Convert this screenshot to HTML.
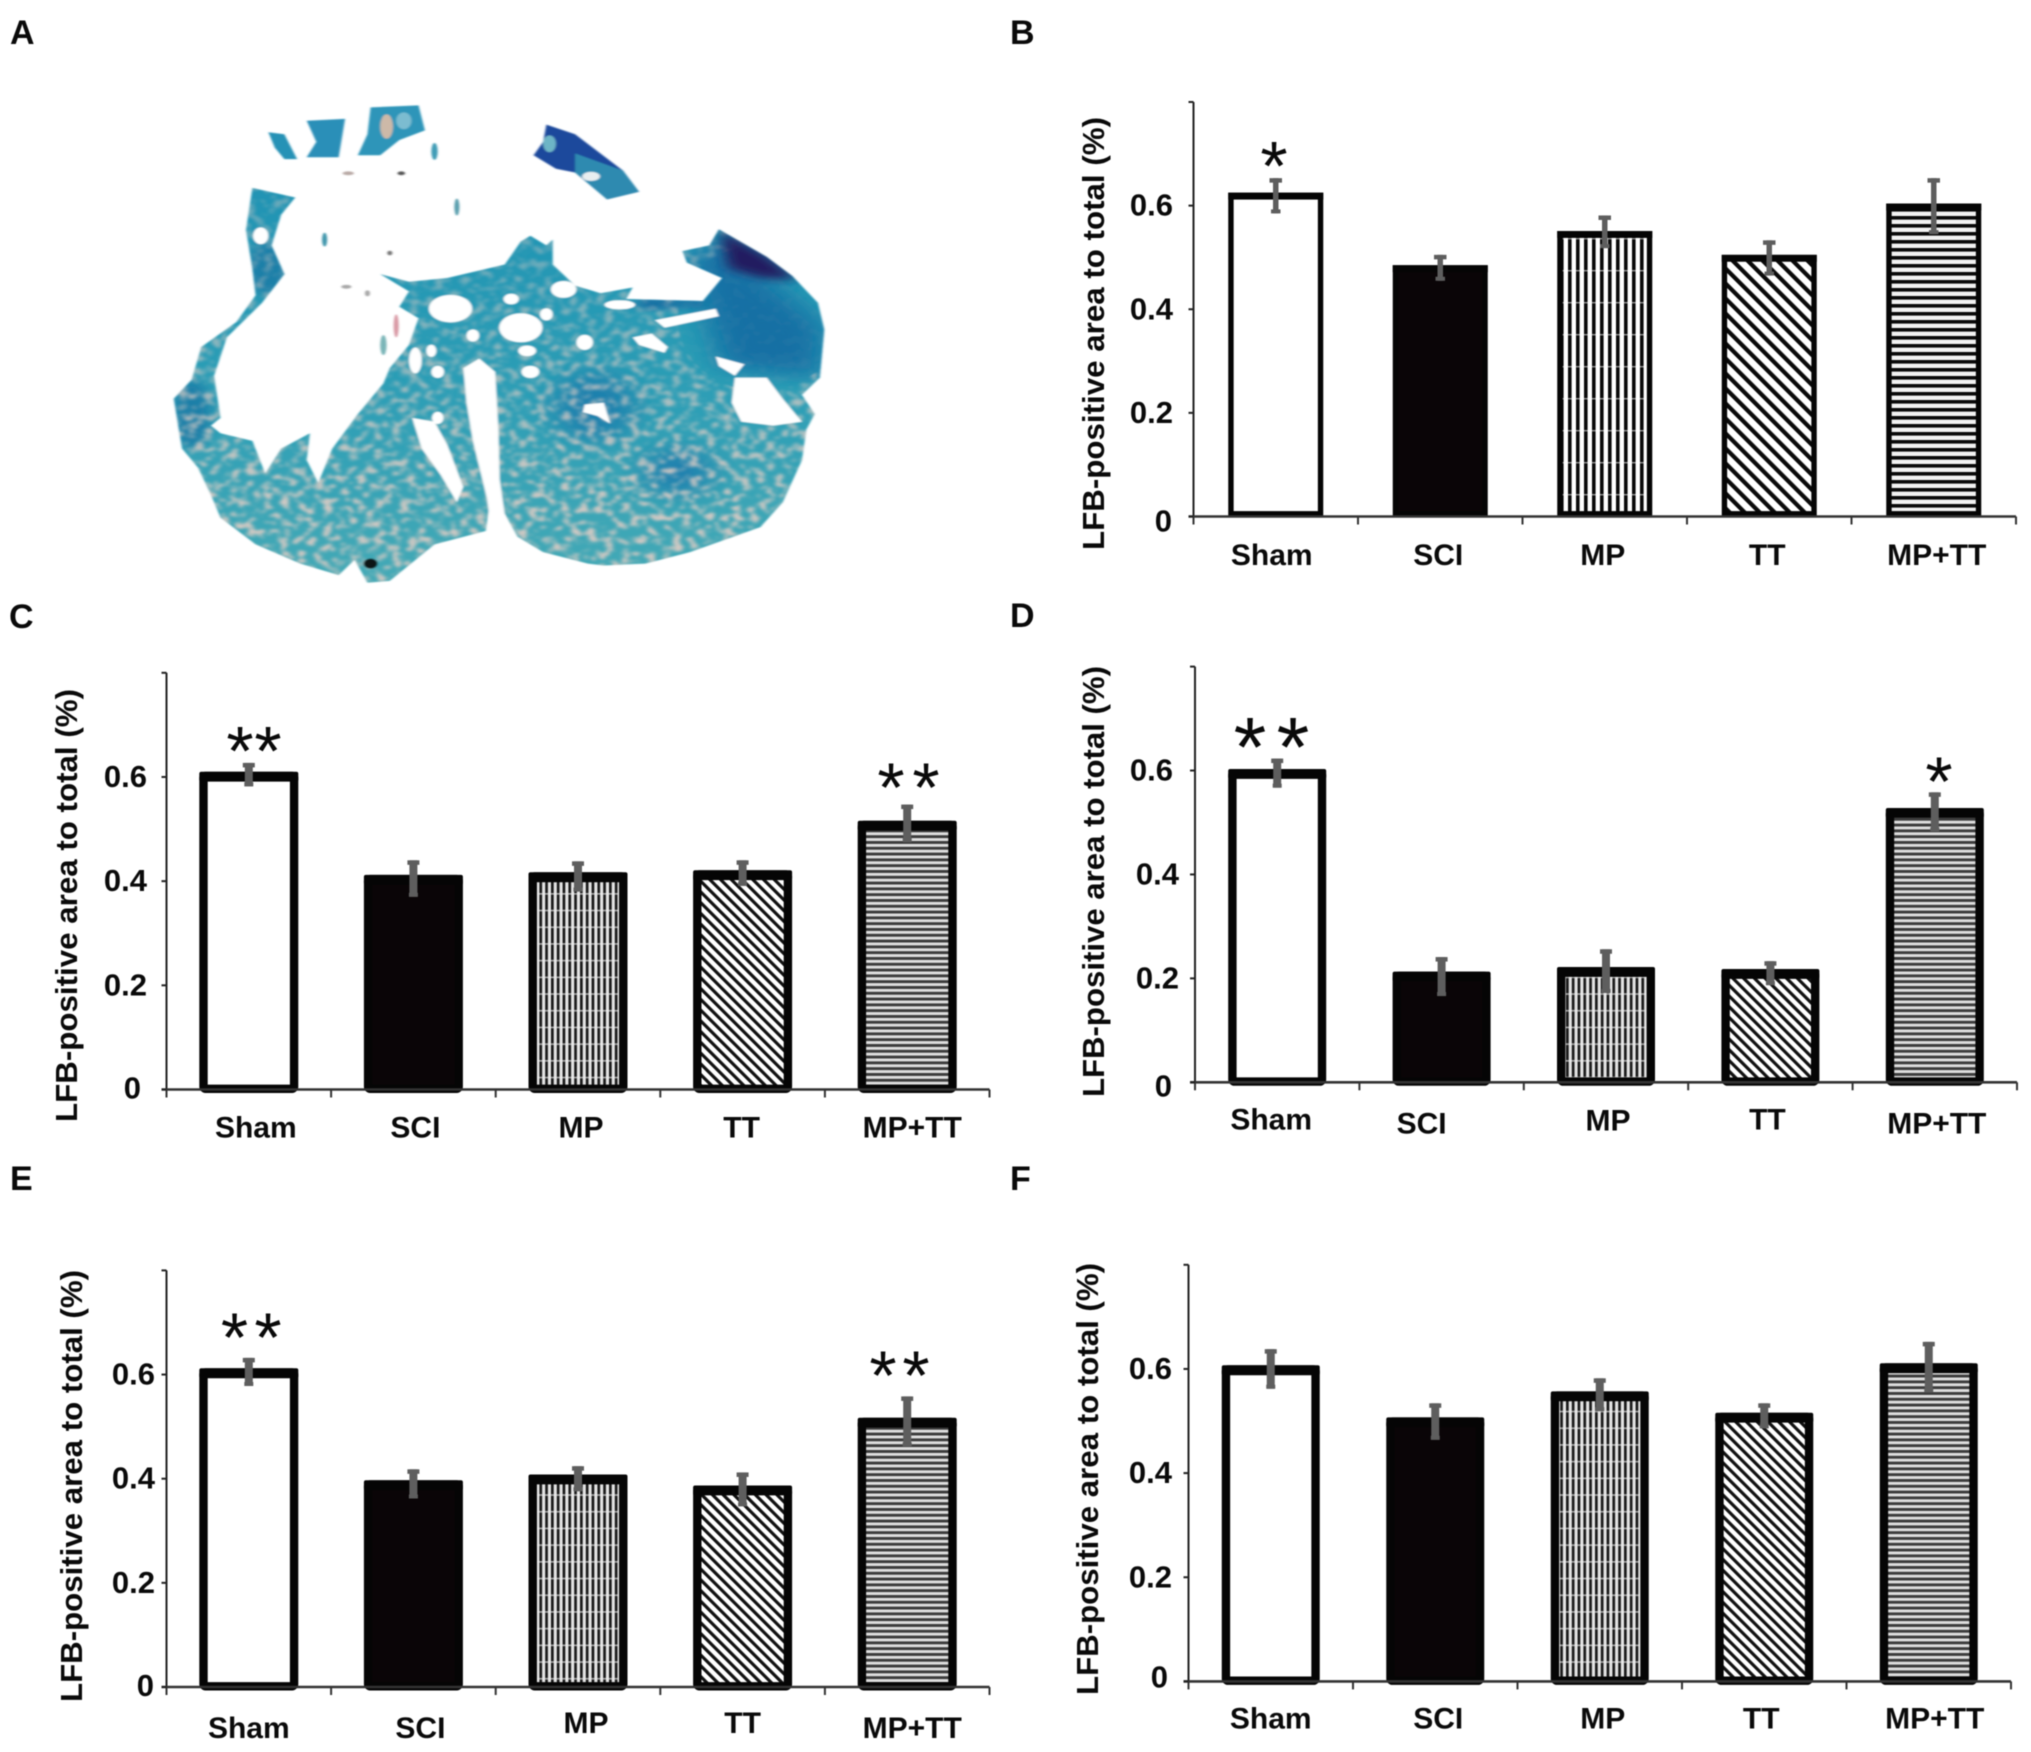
<!DOCTYPE html>
<html lang="en">
<head>
<meta charset="utf-8">
<title>LFB-positive area bar charts</title>
<style>
html,body{margin:0;padding:0;background:#fff;}
svg{display:block;filter:blur(0.6px);}
text{font-family:"Liberation Sans",Arial,sans-serif;fill:#0a0a0a;}
</style>
</head>
<body>
<svg id="figure" xmlns="http://www.w3.org/2000/svg" width="2031" height="1752" viewBox="0 0 2031 1752">
  <defs>
    <pattern id="vert-b" patternUnits="userSpaceOnUse" width="8" height="32">
      <rect width="8" height="32" fill="#fff"/><rect x="0" width="3.6" height="32" fill="#0a0a0a"/>
      <rect y="14" width="8" height="1.4" fill="#fff" opacity="0.55"/>
    </pattern>
    <pattern id="diag-stripe-b" patternUnits="userSpaceOnUse" width="10.6" height="10.6" patternTransform="rotate(-45)">
      <rect width="10.6" height="10.6" fill="#fff"/><rect width="4.2" height="10.6" fill="#0a0a0a"/>
    </pattern>
    <pattern id="horiz-b" patternUnits="userSpaceOnUse" width="8" height="8">
      <rect width="8" height="8" fill="#f2f2f2"/><rect width="8" height="3.6" fill="#0a0a0a"/>
    </pattern>
    <pattern id="vert-t" patternUnits="userSpaceOnUse" width="5.8" height="16.7">
      <rect width="5.8" height="16.7" fill="#e4e4e4"/><rect width="2.7" height="16.7" fill="#1a1a1a"/>
      <rect y="8" width="5.8" height="1.5" fill="#eee" opacity="0.7"/>
    </pattern>
    <pattern id="diag-stripe-t" patternUnits="userSpaceOnUse" width="7.6" height="7.6" patternTransform="rotate(-45)">
      <rect width="7.6" height="7.6" fill="#fff"/><rect width="3.2" height="7.6" fill="#111"/>
    </pattern>
    <pattern id="horiz-t" patternUnits="userSpaceOnUse" width="6" height="5.8">
      <rect width="6" height="5.8" fill="#dedede"/><rect width="6" height="2.9" fill="#3c3c3c"/>
    </pattern>

    <linearGradient id="tissue-base" x1="0" y1="0" x2="0" y2="1">
      <stop offset="0" stop-color="#1f93b4"/>
      <stop offset="0.55" stop-color="#2e9fb6"/>
      <stop offset="1" stop-color="#45aab6"/>
    </linearGradient>
    <linearGradient id="speckle-fade" gradientUnits="userSpaceOnUse" x1="0" y1="700" x2="0" y2="1300">
      <stop offset="0" stop-color="#fff" stop-opacity="0.4"/>
      <stop offset="1" stop-color="#fff" stop-opacity="0.95"/>
    </linearGradient>
    <mask id="speckle-mask" maskUnits="userSpaceOnUse" x="250" y="470" width="1060" height="1070">
      <rect x="250" y="470" width="1060" height="1070" fill="url(#speckle-fade)"/>
      <ellipse cx="1190" cy="830" rx="130" ry="190" fill="#000" opacity="0.9"/>
    </mask>
    <filter id="speckle" x="0" y="0" width="100%" height="100%" color-interpolation-filters="sRGB">
      <feTurbulence type="fractalNoise" baseFrequency="0.075 0.05" numOctaves="2" seed="7"/>
      <feColorMatrix type="matrix" values="0 0 0 0 0.87  0 0 0 0 0.80  0 0 0 0 0.77  4.5 0 0 0 -2.15"/>
      <feGaussianBlur stdDeviation="3"/>
    </filter>
    <filter id="soft-lg" x="-40%" y="-40%" width="180%" height="180%"><feGaussianBlur stdDeviation="26"/></filter>
    <filter id="soft-md" x="-40%" y="-40%" width="180%" height="180%"><feGaussianBlur stdDeviation="11"/></filter>
    <filter id="soft-sm"><feGaussianBlur stdDeviation="1.5"/></filter>
    <clipPath id="tissue-clip">
      <path d="M395,490 L385,600 395,700 400,770 370,840 315,905 300,990 272,1040 285,1170 310,1220 330,1290 345,1350 400,1420 470,1470 530,1500 555,1460 575,1520 610,1515 680,1420 760,1385 765,1330 790,1340 810,1400 850,1440 920,1470 945,1475 1010,1470 1080,1440 1190,1375 1225,1310 1255,1200 1262,1120 1275,1080 1255,1030 1283,985 1290,860 1280,790 1240,720 1200,670 1125,598 1110,640 1068,655 1075,685 1130,725 1100,785 980,780 990,750 940,765 900,745 865,690 865,625 855,640 830,615 815,630 790,690 700,725 640,735 595,715 640,760 625,800 655,830 640,900 610,960 600,1000 560,1080 520,1170 498,1260 480,1200 485,1130 440,1170 415,1235 395,1150 345,1130 330,1110 345,1090 335,980 355,880 410,790 445,715 425,640 440,560 462,515 Z"/>
    </clipPath>
  </defs>

  <rect width="2031" height="1752" fill="#fff"/>

  <g transform="scale(0.639 0.3834)">
    <g filter="url(#soft-sm)">
      <g clip-path="url(#tissue-clip)">
        <rect x="250" y="470" width="1060" height="1070" fill="url(#tissue-base)"/>
        <polygon points="1125,620 1290,850 1285,985 1130,960 1100,800 1080,680" fill="#176fa4" filter="url(#soft-lg)"/>
        <ellipse cx="1060" cy="1230" rx="50" ry="60" fill="#1f7fae" filter="url(#soft-lg)"/>
        <ellipse cx="930" cy="1060" rx="60" ry="90" fill="#1f80ad" filter="url(#soft-lg)"/>
        <ellipse cx="420" cy="700" rx="34" ry="70" fill="#1d7fa8" filter="url(#soft-md)"/>
        <ellipse cx="300" cy="1080" rx="30" ry="90" fill="#1f7fa8" filter="url(#soft-md)"/>
        <polygon points="1000,780 1100,785 1110,795 1000,805" fill="#165f9c" filter="url(#soft-md)"/>
        <g mask="url(#speckle-mask)"><rect x="250" y="470" width="1060" height="1070" filter="url(#speckle)"/></g>
        <polygon points="1125,598 1200,665 1250,730 1190,725 1140,700" fill="#221a60" filter="url(#soft-md)"/>
      </g>
      <g>
        <polygon points="420,345 445,350 465,415 445,415 430,385" fill="#2792b6"/>
        <polygon points="480,315 540,310 530,410 480,410 495,370" fill="#2a8fb8"/>
        <polygon points="580,280 655,275 665,340 625,365 595,405 560,405 575,350" fill="#2d95b9"/>
        <ellipse cx="605" cy="330" rx="10" ry="32" fill="#cdb9a8"/>
        <ellipse cx="632" cy="315" rx="12" ry="22" fill="#7cbcd0"/>
        <polygon points="855,325 900,350 975,445 1000,500 950,520 900,450 870,440 835,405 850,370" fill="#1e4a9c"/>
        <polygon points="900,400 975,445 1000,500 950,520 900,450" fill="#2d8ab0"/>
        <ellipse cx="925" cy="460" rx="14" ry="12" fill="#e8eef0"/>
        <ellipse cx="860" cy="375" rx="10" ry="22" fill="#6db5c6"/>
        <ellipse cx="680" cy="395" rx="5" ry="22" fill="#3f9cb6"/>
        <ellipse cx="715" cy="540" rx="4" ry="22" fill="#5a9fae"/>
        <ellipse cx="508" cy="625" rx="4" ry="18" fill="#3f96ac"/>
        <ellipse cx="628" cy="452" rx="6" ry="5" fill="#555"/>
        <ellipse cx="545" cy="452" rx="9" ry="5" fill="#b9aaa6"/>
        <ellipse cx="542" cy="748" rx="8" ry="5" fill="#a8a8a8"/>
        <ellipse cx="575" cy="765" rx="4" ry="8" fill="#a8a8a8"/>
        <ellipse cx="610" cy="660" rx="4" ry="6" fill="#777"/>
        <ellipse cx="620" cy="850" rx="4" ry="30" fill="#d99aa5"/>
        <ellipse cx="600" cy="900" rx="5" ry="26" fill="#7ab5b8"/>
      </g>
      <g fill="#fff">
        <polygon points="725,960 750,935 775,970 780,1120 782,1250 795,1400 770,1395 762,1300 740,1150 730,1050"/>
        <polygon points="645,1090 680,1100 700,1160 725,1270 715,1310 690,1240 660,1170"/>
        <polygon points="1150,985 1200,985 1225,1040 1255,1100 1210,1110 1160,1100 1145,1050"/>
        <polygon points="1025,835 1120,805 1125,825 1040,855"/>
        <polygon points="990,880 1020,870 1045,905 1040,920 1000,900"/>
        <polygon points="1120,930 1165,950 1150,980 1125,955"/>
        <polygon points="915,1055 945,1050 955,1105 935,1085 912,1075"/>
        <ellipse cx="705" cy="805" rx="34" ry="36"/>
        <ellipse cx="815" cy="855" rx="34" ry="38"/>
        <ellipse cx="800" cy="780" rx="12" ry="14"/>
        <ellipse cx="882" cy="755" rx="20" ry="22"/>
        <ellipse cx="915" cy="893" rx="13" ry="20"/>
        <ellipse cx="830" cy="970" rx="14" ry="16"/>
        <ellipse cx="825" cy="915" rx="14" ry="14"/>
        <ellipse cx="740" cy="875" rx="10" ry="16"/>
        <ellipse cx="650" cy="940" rx="10" ry="34"/>
        <ellipse cx="675" cy="915" rx="8" ry="16"/>
        <ellipse cx="685" cy="970" rx="10" ry="16"/>
        <ellipse cx="685" cy="1090" rx="9" ry="16"/>
        <ellipse cx="408" cy="615" rx="12" ry="22"/>
        <ellipse cx="855" cy="820" rx="10" ry="16"/>
        <ellipse cx="970" cy="795" rx="24" ry="12"/>
      </g>
      <ellipse cx="580" cy="1470" rx="11" ry="13" fill="#101418"/>
    </g>
  </g>

  <g font-weight="bold" font-size="34">
    <text x="10" y="44">A</text>
    <text x="1010" y="44">B</text>
    <text x="9" y="628">C</text>
    <text x="1010" y="627">D</text>
    <text x="10" y="1190">E</text>
    <text x="1010" y="1190">F</text>
  </g>

  <g id="charts"></g>
</svg>

<script>
// ---- chart data ----
const categories = ['Sham', 'SCI', 'MP', 'TT', 'MP+TT'];
const yTickValues = [0, 0.2, 0.4, 0.6, 0.8];
const yTickLabels = ['0', '0.2', '0.4', '0.6', ''];
const yAxisTitle = 'LFB-positive area to total (%)';

const valuesB = [0.625, 0.485, 0.551, 0.505, 0.604];
const errHighB = [0.653, 0.505, 0.581, 0.533, 0.653];
const errLowB = [0.585, 0.455, 0.518, 0.465, 0.545];

const valuesC = [0.610, 0.412, 0.417, 0.421, 0.516];
const errHighC = [0.627, 0.440, 0.438, 0.440, 0.547];
const errLowC = [0.582, 0.370, 0.380, 0.391, 0.475];

const valuesD = [0.603, 0.213, 0.222, 0.218, 0.528];
const errHighD = [0.623, 0.241, 0.256, 0.233, 0.558];
const errLowD = [0.567, 0.166, 0.172, 0.187, 0.483];

const valuesE = [0.612, 0.397, 0.408, 0.387, 0.517];
const errHighE = [0.632, 0.418, 0.424, 0.412, 0.558];
const errLowE = [0.578, 0.362, 0.376, 0.347, 0.462];

const valuesF = [0.607, 0.507, 0.557, 0.516, 0.611];
const errHighF = [0.638, 0.534, 0.582, 0.534, 0.652];
const errLowF = [0.562, 0.464, 0.519, 0.486, 0.555];

// ---- panel layout (geometry only) ----
const panels = [
  { id:'b', values:valuesB, high:errHighB, low:errLowB, x0:1193.5, pitch:164.5, y0:516.5, yTop:102, barW:95, sw:5.4, rx:0, below:0, fine:false,
    tickRight:[1172,1173,1173,1173], zeroDy:5, titleX:1104, titleY:550, titleLen:433,
    labelDx:[-4,-2,-2,-2,3], labelDy:[48.5,48.5,48.5,48.5,48.5],
    stars:[{x:1274,cy:155.5,fs:70}] },
  { id:'c', values:valuesC, high:errHighC, low:errLowC, x0:166.5, pitch:164.6, y0:1089.5, yTop:672.8, barW:99, sw:8.4, rx:2, below:3.5, fine:true,
    tickRight:[141,147,147,147], zeroDy:-1, titleX:77, titleY:1122, titleLen:433,
    labelDx:[7,2,3,-1,5], labelDy:[48,48,48,48,48],
    stars:[{x:240,cy:740.5,fs:70},{x:268,cy:740.5,fs:70},{x:891,cy:777,fs:70},{x:926,cy:777,fs:70}] },
  { id:'d', values:valuesD, high:errHighD, low:errLowD, x0:1195, pitch:164.4, y0:1082.3, yTop:666.6, barW:98, sw:8.4, rx:2, below:3.5, fine:true,
    tickRight:[1172,1179,1179,1173], zeroDy:4, titleX:1104, titleY:1097, titleLen:431,
    labelDx:[-6,-20,2,-3,2], labelDy:[47,51,48,47,51],
    stars:[{x:1250,cy:735,fs:84},{x:1293,cy:735,fs:84},{x:1939,cy:771,fs:70}] },
  { id:'e', values:valuesE, high:errHighE, low:errLowE, x0:166.5, pitch:164.6, y0:1687, yTop:1270.4, barW:99, sw:8.4, rx:2, below:3.5, fine:true,
    tickRight:[154,155,155,155], zeroDy:-1, titleX:82, titleY:1702, titleLen:432,
    labelDx:[0,7,8,0,5], labelDy:[51,51,46,46,51],
    stars:[{x:234.5,cy:1327,fs:70},{x:268,cy:1327,fs:70},{x:883,cy:1365,fs:70},{x:916,cy:1365,fs:70}] },
  { id:'f', values:valuesF, high:errHighF, low:errLowF, x0:1188.5, pitch:164.5, y0:1681.4, yTop:1264.8, barW:98, sw:8.4, rx:2, below:3.5, fine:true,
    tickRight:[1168,1172,1172,1172], zeroDy:-4, titleX:1098, titleY:1695, titleLen:432,
    labelDx:[0,3,3,-3,6], labelDy:[47,47,47,47,47],
    stars:[] }
];

const SVG_NS = 'http://www.w3.org/2000/svg';
function make(tag, attrs, parent) {
  const node = document.createElementNS(SVG_NS, tag);
  for (const k in attrs) node.setAttribute(k, attrs[k]);
  parent.appendChild(node);
  return node;
}
function barFill(i, fine) {
  if (i === 0) return '#fff';
  if (i === 1) return '#0a0507';
  if (i === 2) return fine ? 'url(#vert-t)' : 'url(#vert-b)';
  if (i === 3) return fine ? 'url(#diag-stripe-t)' : 'url(#diag-stripe-b)';
  return fine ? 'url(#horiz-t)' : 'url(#horiz-b)';
}

function drawPanel(p) {
  const root = document.getElementById('charts');
  const yScale = v => p.y0 - (v / 0.8) * (p.y0 - p.yTop);
  const xBand = i => p.x0 + p.pitch * i;
  const xCenter = i => p.x0 + p.pitch * (i + 0.5);

  const panel = make('g', {}, root);
  
  

  // bars
  categories.forEach((cat, i) => {
    const top = yScale(p.values[i]);
    const bar = make('rect', {
      x: xCenter(i) - p.barW / 2 + p.sw / 2,
      y: top + p.sw / 2,
      width: p.barW - p.sw,
      height: Math.max(0, p.y0 + p.below - top - p.sw),
      rx: p.rx,
      fill: barFill(i, p.fine),
      stroke: '#050505',
      'stroke-width': p.sw
    }, panel);
    
    
    const topEdge = make('rect', {
      x: xCenter(i) - p.barW / 2,
      y: top,
      width: p.barW,
      height: p.sw + 1.5,
      rx: p.rx,
      fill: '#050505'
    }, panel);
    
    
  });

  // axes
  const yAxis = make('line', { x1:p.x0, x2:p.x0, y1:p.yTop, y2:p.y0, stroke:'#222', 'stroke-width':2 }, panel);
  
  
  const xAxis = make('line', { x1:p.x0 - 5, x2:xBand(5), y1:p.y0, y2:p.y0, stroke:'#333', 'stroke-width':2.6 }, panel);
  
  

  for (let i = 0; i <= categories.length; i++) {
    const tick = make('line', { x1:xBand(i), x2:xBand(i), y1:p.y0, y2:p.y0 + 8, stroke:'#333', 'stroke-width':2 }, panel);
    
    
  }

  yTickValues.forEach((v, i) => {
    const tick = make('line', { x1:p.x0 - 5, x2:p.x0, y1:yScale(v), y2:yScale(v), stroke:'#222', 'stroke-width':2 }, panel);
    
    
    if (!yTickLabels[i]) return;
    const label = make('text', {
      x: p.tickRight[i],
      y: yScale(v) + 10 + (v === 0 ? p.zeroDy : 0),
      'text-anchor': 'end',
      'font-size': 31,
      'font-weight': 'bold'
    }, panel);
    label.textContent = yTickLabels[i];
    
    
  });

  // error bars
  categories.forEach((cat, i) => {
    const cx = xCenter(i);
    const yHi = yScale(p.high[i]);
    const yLo = yScale(p.low[i]);
    const stemW = p.fine ? 8 : 5.5;
    const capW = p.fine ? 12 : 12.5;
    const err = make('g', { fill:'#5e5e5e' }, panel);
    
    
    make('rect', { x:cx - stemW / 2, y:yHi, width:stemW, height:yLo - yHi }, err);
    make('rect', { x:cx - capW / 2, y:yHi, width:capW, height:4.5 }, err);
    make('rect', { x:cx - capW / 2 + 1.5, y:yLo - 4, width:capW - 3, height:4 }, err);
  });

  // category labels
  categories.forEach((cat, i) => {
    const label = make('text', {
      x: xCenter(i) + p.labelDx[i],
      y: p.y0 + p.labelDy[i],
      'text-anchor': 'middle',
      'font-size': 30,
      'font-weight': 'bold'
    }, panel);
    label.textContent = cat;
    
    
  });

  // y axis title
  const title = make('text', {
    transform: 'translate(' + p.titleX + ' ' + p.titleY + ') rotate(-90)',
    'font-size': 31,
    'font-weight': 'bold',
    textLength: p.titleLen,
    lengthAdjust: 'spacingAndGlyphs',
    fill: '#1c1c1c'
  }, panel);
  title.textContent = yAxisTitle;
  
  

  // significance markers
  p.stars.forEach(s => {
    const star = make('text', {
      x: s.x,
      y: s.cy + 0.49 * s.fs,
      'text-anchor': 'middle',
      'font-size': s.fs
    }, panel);
    star.textContent = '*';
    
    
  });
}

panels.forEach(drawPanel);
</script>
</body>
</html>
